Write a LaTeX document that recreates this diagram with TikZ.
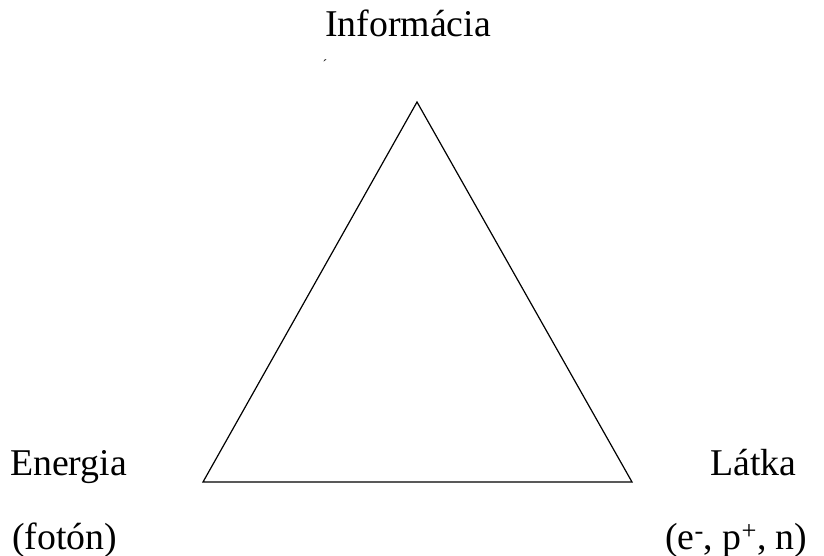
\documentclass[tikz,border=0pt]{standalone}
\usepackage{fontspec}
\setmainfont{Liberation Serif}
\begin{document}
\begin{tikzpicture}[x=1pt,y=-1pt,
  lbl/.style={inner sep=0pt,anchor=base west,font=\fontsize{37.8}{45}\selectfont},
  tri/.style={draw=black,line width=1.2pt,line join=miter}]
\useasboundingbox (0,0) rectangle (824,556);
\coordinate (top) at (417,102);
\coordinate (bl) at (203,482);
\coordinate (br) at (632,482);
\draw[tri] (top) -- (bl) -- (br) -- cycle;
\node[lbl] (info) at (325,37) {Informácia};
\node[inner sep=0pt,font=\fontsize{14}{16}\selectfont] (acc) at (325,65) {´};
\node[lbl] (energia) at (10,475) {Energia};
\node[lbl] (foton) at (12,549) {(fotón)};
\node[lbl] (latka) at (710,475) {Látka};
\node[lbl] (part) at (665,549) {(e\textsuperscript{-}, p\textsuperscript{+}, n)};
\end{tikzpicture}
\end{document}
